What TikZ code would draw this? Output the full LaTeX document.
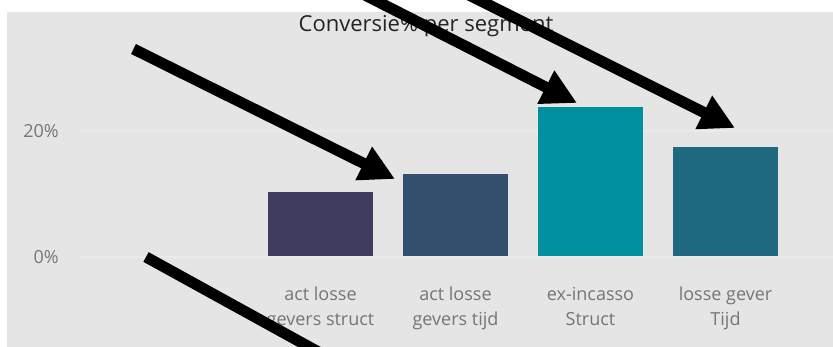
\documentclass[tikz,border=0pt]{standalone}
\usepackage{fontspec}
\setmainfont{Open Sans}
\usetikzlibrary{arrows.meta}
\definecolor{bg}{HTML}{E5E5E5}
\definecolor{grid}{HTML}{EAEAEA}
\definecolor{titlec}{HTML}{252423}
\definecolor{axisc}{HTML}{757575}
\definecolor{barA}{HTML}{3F3C5F}
\definecolor{barB}{HTML}{34506E}
\definecolor{barC}{HTML}{00909E}
\definecolor{barD}{HTML}{1F6A80}
\tikzset{
  bar/.style={draw=none},
  ylab/.style={anchor=base east, text=axisc, font=\fontsize{18}{20}\selectfont, inner sep=0pt},
  xlab/.style={anchor=north, text=axisc, font=\fontsize{18}{25}\selectfont, align=center, inner sep=0pt},
  pointer/.style={line width=11pt, line cap=butt, -{Triangle[length=35pt,width=35pt]}},
  plainline/.style={line width=11pt, line cap=butt},
}
\begin{document}
\begin{tikzpicture}[x=1pt,y=-1pt]
\useasboundingbox (0,0) rectangle (833,347);
\clip (0,0) rectangle (833,347);
\fill[white] (0,0) rectangle (833,347);
\fill[bg] (7,12) rectangle (833,347);
% gridlines
\draw[grid, line width=1.5pt] (80,131) -- (833,131);
\draw[grid, line width=2pt] (80,257) -- (833,257);
% title
\node[anchor=base, text=titlec, font=\fontsize{22}{26}\selectfont, inner sep=0pt] (title) at (426,32) {Conversie\% per segment};
% axis labels
\node[ylab] (y20) at (59,138) {20\%};
\node[ylab] (y0) at (59,264) {0\%};
% bars
\fill[barA] (268,192) rectangle (373,256);
\fill[barB] (403,174) rectangle (508,256);
\fill[barC] (538,107) rectangle (643,256);
\fill[barD] (673,147) rectangle (778,256);
% category labels
\node[xlab] (c1) at (320.5,287) {act losse\\gevers struct};
\node[xlab] (c2) at (455.5,287) {act losse\\gevers tijd};
\node[xlab] (c3) at (590.5,287) {ex-incasso\\Struct};
\node[xlab] (c4) at (725.5,287) {losse gever\\Tijd};
% arrows
\coordinate (a1s) at (133.5,49);
\coordinate (a1e) at (395,179);
\coordinate (a2s) at (355,-10);
\coordinate (a2e) at (577,103);
\coordinate (a3s) at (459,-10);
\coordinate (a3e) at (735,128);
\coordinate (l4s) at (146,257);
\coordinate (l4e) at (333,360);
\draw[pointer] (a1s) -- (a1e);
\draw[pointer] (a2s) -- (a2e);
\draw[pointer] (a3s) -- (a3e);
\draw[plainline] (l4s) -- (l4e);
\end{tikzpicture}
\end{document}
